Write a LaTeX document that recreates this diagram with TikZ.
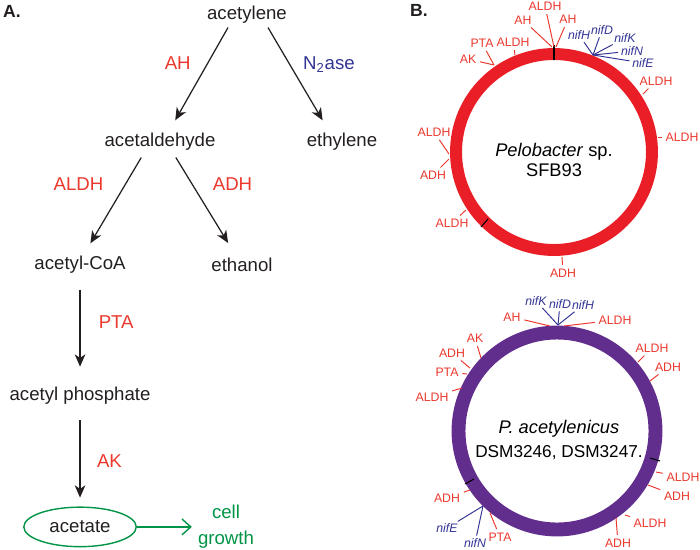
\documentclass[tikz,border=0pt]{standalone}
\usepackage{fontspec}
\setmainfont{Liberation Sans}
\usetikzlibrary{shapes.geometric, arrows.meta, positioning}

\definecolor{txtgray}{RGB}{35,31,32}
\definecolor{genered}{RGB}{234,56,45}
\definecolor{geneblue}{RGB}{50,52,148}
\definecolor{ringred}{RGB}{234,30,38}
\definecolor{ringpurple}{RGB}{98,46,142}
\definecolor{cellgreen}{RGB}{0,148,70}

\tikzset{
  metab/.style={text=txtgray, inner sep=2pt},
  enz/.style={text=genered},
  rxn/.style={-{Stealth[length=7pt,width=6pt,inset=2pt]}, line width=0.7pt, txtgray, shorten >=6pt},
  gene/.style={text=genered, font=\fontsize{7}{8}\selectfont, inner sep=1pt},
  nif/.style={text=geneblue, font=\fontsize{7}{8}\selectfont\itshape, inner sep=0.5pt},
  geneline/.style={genered, line width=0.55pt, shorten >=1pt},
  nifline/.style={geneblue, line width=0.55pt, shorten >=1pt},
  strain/.style={text=black, align=center},
  panel/.style={font=\fontsize{10}{12}\selectfont\bfseries, text=txtgray},
}

\begin{document}
\begin{tikzpicture}[x=0.02cm, y=-0.02cm, font=\fontsize{10.6}{12.7}\selectfont]
  \useasboundingbox (0,0) rectangle (700,549);

  \node[panel] (pa) at (12,11) {A.};
  \node[panel] (pb) at (419,10) {B.};

  % pathway
  \node[metab] (acetylene) at (247,15) {acetylene};
  \node[metab, on grid, below left=2.54cm and 1.74cm of acetylene] (acetaldehyde) {acetaldehyde};
  \node[metab, on grid, below right=2.54cm and 1.90cm of acetylene] (ethylene) {ethylene};
  \node[metab, on grid, below left=2.46cm and 1.60cm of acetaldehyde] (acetylcoa) {acetyl-CoA};
  \node[metab, on grid, below right=2.46cm and 1.64cm of acetaldehyde] (ethanol) {ethanol};
  \node[metab, on grid, below=2.62cm of acetylcoa] (acetylp) {acetyl phosphate};
  \node[metab, ellipse, draw=cellgreen, line width=0.8pt, minimum width=64pt, minimum height=22.5pt,
        on grid, below=2.62cm of acetylp] (acetate) {acetate};
  \node[text=cellgreen, align=center, font=\fontsize{10.6}{14.7}\selectfont,
        on grid, right=2.92cm of acetate] (growth) {cell\\growth};

  \draw[rxn] ([xshift=-0.38cm]acetylene.south) -- ([xshift=0.2cm]acetaldehyde.north)
    node[enz, pos=0.35, left=6pt] (ah) {AH};
  \draw[rxn] ([xshift=0.42cm]acetylene.south) -- ([xshift=-0.28cm]ethylene.north)
    node[pos=0.36, right=4pt, text=geneblue] (n2ase) {N\textsubscript{2}ase};
  \draw[rxn, shorten <=2pt] ([xshift=-0.34cm]acetaldehyde.south) -- ([xshift=0.1cm]acetylcoa.north)
    node[enz, pos=0.3, left=9pt] (aldh) {ALDH};
  \draw[rxn, shorten <=2pt, shorten >=7.5pt] ([xshift=0.28cm]acetaldehyde.south) -- ([xshift=-0.14cm]ethanol.north)
    node[enz, pos=0.3, right=8pt] (adh) {ADH};
  \draw[rxn, shorten <=7pt, shorten >=9.5pt] (acetylcoa) -- (acetylp)
    node[enz, pos=0.42, right=7pt] (pta) {PTA};
  \draw[rxn, shorten <=6.5pt, shorten >=5pt] (acetylp) -- (acetate)
    node[enz, pos=0.54, right=6pt] (ak) {AK};
  \draw[-{Straight Barb[length=5pt,width=9pt]}, cellgreen, line width=0.8pt] (acetate) -- (growth);

  % genome of SFB93
  \coordinate (sfbc) at (554,152);
  \draw[ringred, line width=6.8pt] (sfbc) circle[radius=1.96cm];
  \node[strain, font=\fontsize{10.4}{11.3}\selectfont] (sfb) at (554,160) {\textit{Pelobacter} sp.\\SFB93};
  \draw[black, line width=0.6pt] (554,45) -- (554,60);
  \draw[black, line width=0.6pt] (481,227) -- (488,219);
  \foreach \id/\rx/\ry/\lx/\ly/\txt in {
      t1/554/47/545/6/ALDH, t2/552/47/523/20/AH, t3/556/47/568/19/AH,
      t4/494/65/482/43/PTA, t5/494/65/468/59/AK, t6/515/55/513/42/ALDH,
      t7/643/94/656/81/ALDH, t8/658/137/682/137/ALDH, t9/449/154/434/132/ALDH,
      t10/449/159/433/175/ADH, t11/466/210/452/223/ALDH, t12/562/257/563/273/ADH} {
    \coordinate (\id r) at (\rx,\ry);
    \node[gene] (\id) at (\lx,\ly) {\txt};
    \draw[geneline] (\id r) -- (\id);
  }

  % genome of DSM3246, DSM3247
  \coordinate (dsmc) at (557,431);
  \draw[ringpurple, line width=7.9pt] (dsmc) circle[radius=1.97cm];
  \node[strain, font=\fontsize{10.4}{13.6}\selectfont] (dsm) at (559,440)
    {\textit{P. acetylenicus}\\{\fontsize{9.8}{13.6}\selectfont DSM3246, DSM3247.}};
  \draw[black, line width=0.6pt] (660,461) -- (650,458);
  \draw[black, line width=0.6pt] (465,484) -- (474,479);
  \foreach \id/\rx/\ry/\lx/\ly/\txt in {
      b1/550/326/512/317/AH, b2/564/326/615/320/ALDH, b4/481/358/475/338/AK,
      b5/470/368/452/353/ADH, b6/467/374/447/372/PTA, b7/462/388/432/397/ALDH,
      b8/638/362/652/348/ALDH, b9/650/381/668/367/ADH, b10/656/472/683/477/ALDH,
      b11/648/485/677/496/ADH, b12/625/515/650/523/ALDH, b13/616/518/618/543/ADH,
      b14/490/513/500/537/PTA, b16/470/490/447/498/ADH} {
    \coordinate (\id r) at (\rx,\ry);
    \node[gene] (\id) at (\lx,\ly) {\txt};
    \draw[geneline] (\id r) -- (\id);
  }

  % nif genes
  \foreach \id/\rx/\ry/\lx/\ly/\txt in {
      n1/593/55/579/35/nifH, n2/593/55/602/30/nifD, n3/593/55/625/38/nifK,
      n4/593/55/632/51/nifN, n5/593/55/643/63/nifE,
      m1/558/325/536/301/nifK, m2/558/325/560/304/nifD, m3/558/325/583/305/nifH,
      m4/483/506/447/528/nifE, m5/483/506/475/543/nifN} {
    \coordinate (\id r) at (\rx,\ry);
    \node[nif] (\id) at (\lx,\ly) {\txt};
    \draw[nifline] (\id r) -- (\id);
  }
\end{tikzpicture}
\end{document}
